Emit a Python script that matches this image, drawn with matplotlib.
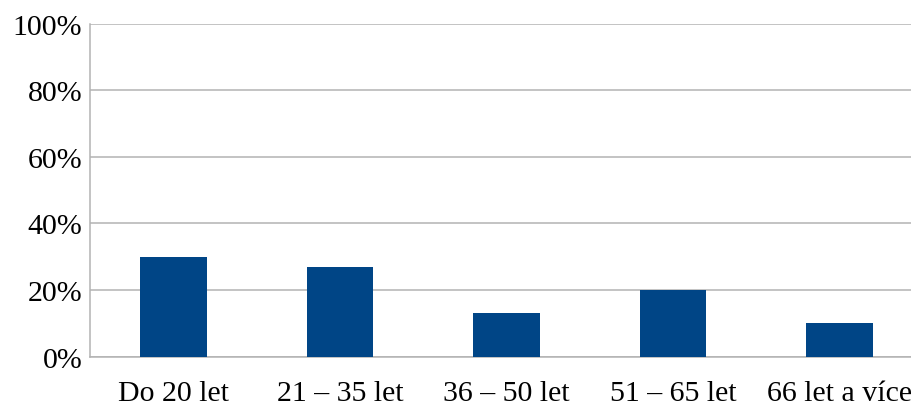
import matplotlib.pyplot as plt
from matplotlib.ticker import FuncFormatter

# age groups and share of respondents
categories = ['Do 20 let', '21 – 35 let', '36 – 50 let', '51 – 65 let', '66 let a více']
shares = [30, 27, 13, 20, 10]
yticks = [0, 20, 40, 60, 80, 100]

plt.rcParams['font.family'] = ['Liberation Serif', 'DejaVu Serif']

fig = plt.figure(figsize=(9.11, 4.10), dpi=100)
ax = fig.add_axes([0.0993, 0.128, 0.9136, 0.8117])

x = range(len(categories))
ax.bar(x, shares, width=0.4, color='#004586', zorder=3)

ax.set_xlim(-0.5, len(categories) - 0.5)
ax.set_ylim(0, 100)
ax.set_yticks(yticks)
ax.yaxis.set_major_formatter(FuncFormatter(lambda v, p: '%d%%' % v))
ax.set_xticks(list(x))
ax.set_xticklabels(categories)

ax.grid(axis='y', color='#b3b3b3', linewidth=1.1, zorder=0)
for s in ['top', 'right']:
    ax.spines[s].set_visible(False)
for s in ['left', 'bottom']:
    ax.spines[s].set_color('#b3b3b3')
    ax.spines[s].set_linewidth(1.1)
ax.tick_params(axis='both', length=0, labelsize=21.5, colors='black')
ax.tick_params(axis='y', pad=6)
ax.tick_params(axis='x', pad=17)

fig.savefig('out.png', dpi=100)
plt.close()
